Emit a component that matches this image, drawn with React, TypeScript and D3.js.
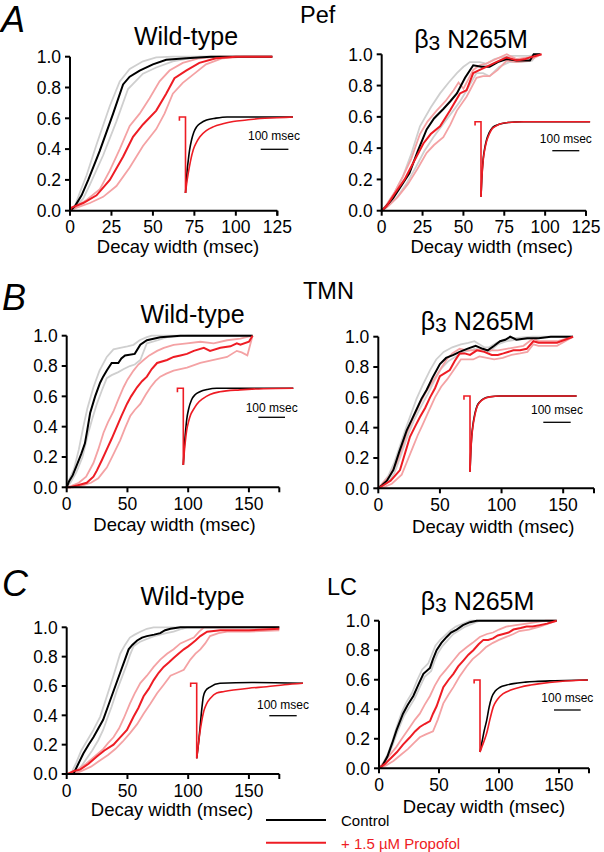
import React from 'react';
import * as d3 from 'd3';

type P = [number, number];

// ---------- Tick labels ----------
const Y_TICKS = [0, 0.2, 0.4, 0.6, 0.8, 1.0];
const X_TICKS_A = [0, 25, 50, 75, 100, 125];
const X_TICKS_BC = [0, 50, 100, 150];

// ---------- Cumulative decay-width distributions (msec, fraction) ----------
// A: Pef, wild-type
const A_WT_CTRL: P[] = [[0,0],[3,0.03],[7,0.1],[11,0.2],[18,0.39],[26,0.63],[32,0.82],[36,0.87],[42,0.91],[50,0.95],[58,0.98],[70,0.99],[85,1],[122,1]];
const A_WT_CTRL_HI: P[] = [[0,0],[3,0.03],[6,0.12],[10,0.23],[16,0.43],[24,0.68],[30,0.84],[36,0.92],[44,0.97],[52,0.995],[62,1],[122,1]];
const A_WT_CTRL_LO: P[] = [[0,0],[3,0.02],[8,0.08],[12,0.17],[20,0.36],[28,0.58],[35,0.79],[44,0.89],[52,0.93],[62,0.97],[78,1],[122,1]];
const A_WT_PROP: P[] = [[0,0],[1,0.02],[8,0.05],[16,0.1],[24,0.2],[32,0.35],[38,0.48],[44,0.56],[52,0.65],[58,0.76],[63,0.86],[70,0.91],[78,0.96],[88,0.99],[100,1],[122,1]];
const A_WT_PROP_HI: P[] = [[0,0],[4,0.03],[10,0.07],[18,0.14],[24,0.26],[30,0.4],[36,0.55],[42,0.63],[48,0.73],[54,0.84],[60,0.91],[68,0.96],[78,0.99],[90,1],[122,1]];
const A_WT_PROP_LO: P[] = [[0,0],[4,0.02],[12,0.05],[20,0.09],[28,0.16],[36,0.28],[44,0.42],[52,0.53],[57,0.63],[62,0.76],[68,0.83],[75,0.89],[82,0.95],[92,0.99],[105,1],[122,1]];

// A: Pef, beta3 N265M
const A_MUT_CTRL: P[] = [[0,0],[2,0.02],[7,0.08],[12,0.16],[17,0.24],[22,0.38],[27.5,0.52],[32,0.59],[37.7,0.65],[42,0.7],[46,0.75],[51,0.85],[56,0.93],[61,0.92],[66,0.92],[71,0.95],[76.5,0.97],[82.6,0.96],[90.7,0.96],[93,1],[97,1]];
const A_MUT_CTRL_HI: P[] = [[0,0],[2,0.02],[7,0.1],[13,0.22],[18,0.36],[23.4,0.54],[30,0.66],[35.7,0.75],[41,0.82],[46,0.88],[50,0.92],[54,0.95],[60,0.95],[64,0.94],[69,0.97],[73,0.98],[80,0.99],[90,0.99],[97,1]];
const A_MUT_CTRL_LO: P[] = [[0,0],[3,0.02],[9,0.08],[15,0.17],[21,0.28],[26,0.38],[31.6,0.47],[38,0.56],[43.8,0.64],[48,0.7],[52,0.77],[58,0.88],[62,0.88],[66,0.86],[72,0.92],[78,0.95],[85,0.95],[92,0.96],[95,1],[97,1]];
const A_MUT_PROP: P[] = [[0,0],[3,0.03],[8,0.11],[14,0.2],[19,0.3],[25.5,0.43],[30,0.49],[35.7,0.54],[41.8,0.64],[47.9,0.75],[51.9,0.77],[56,0.88],[60,0.9],[64,0.92],[70,0.95],[76.5,0.98],[82.6,0.96],[88,0.97],[90.7,0.98],[97.8,1]];
const A_MUT_PROP_HI: P[] = [[0,0],[3,0.04],[8,0.12],[13,0.22],[18,0.33],[23.4,0.49],[28,0.57],[33.6,0.64],[39,0.7],[44,0.77],[47,0.82],[50,0.78],[53,0.84],[56,0.9],[60,0.93],[64,0.94],[70,0.97],[76.5,1],[82.6,0.97],[90,0.98],[97.8,1]];
const A_MUT_PROP_LO: P[] = [[0,0],[4,0.03],[10,0.09],[16,0.17],[22,0.27],[27.5,0.37],[32,0.42],[37.7,0.47],[42,0.55],[46,0.64],[52,0.73],[58,0.85],[62,0.86],[66,0.86],[71,0.9],[76.5,0.96],[82.6,0.95],[90,0.96],[97.8,1]];

// B: TMN, wild-type
const B_WT_CTRL: P[] = [[0,0],[2,0.04],[5,0.08],[8,0.14],[12,0.22],[15,0.29],[17,0.38],[19.3,0.49],[23.4,0.6],[27.5,0.69],[30,0.73],[33,0.77],[37,0.82],[42.5,0.82],[45,0.85],[48,0.87],[56,0.88],[60.6,0.94],[66,0.97],[77,0.99],[93.6,1],[153,1]];
const B_WT_CTRL_HI: P[] = [[0,0],[2,0.05],[6,0.12],[10,0.25],[13.7,0.4],[17,0.52],[22,0.66],[27,0.77],[33,0.86],[38.5,0.91],[44,0.92],[50,0.93],[55,0.94],[60,0.97],[66,0.99],[70,1],[153,1]];
const B_WT_CTRL_LO: P[] = [[0,0],[3,0.03],[8,0.1],[13,0.2],[17.8,0.36],[21,0.45],[24.8,0.55],[29,0.64],[33,0.72],[37,0.74],[42.5,0.76],[47,0.78],[52,0.8],[56,0.81],[60.6,0.84],[66,0.95],[75,0.97],[82.6,0.99],[100,1],[153,1]];
const B_WT_PROP: P[] = [[0,0],[3,0],[10,0.015],[16.5,0.03],[22,0.07],[24.8,0.11],[29,0.18],[33,0.25],[37,0.32],[41.3,0.4],[45,0.47],[49.6,0.55],[53,0.6],[57.9,0.66],[62,0.7],[66,0.73],[70,0.78],[74.4,0.82],[82.6,0.84],[88,0.86],[93.6,0.87],[99,0.88],[104.6,0.9],[112.9,0.92],[118,0.9],[126.5,0.92],[134.8,0.93],[140,0.95],[143,0.94],[150,0.96],[153,1]];
const B_WT_PROP_HI: P[] = [[0,0],[4,0.01],[10,0.03],[16,0.07],[22,0.16],[26,0.25],[30.3,0.36],[34,0.43],[38.5,0.5],[42,0.57],[46.8,0.66],[50,0.71],[55,0.77],[59,0.81],[63.3,0.84],[68,0.87],[74.4,0.9],[80,0.92],[88,0.94],[99,0.95],[110,0.96],[121,0.95],[132,0.97],[143,0.98],[153,1]];
const B_WT_PROP_LO: P[] = [[0,0],[5,0],[12,0.01],[20,0.03],[26,0.06],[30,0.1],[33,0.13],[38,0.21],[44,0.31],[48,0.39],[52.3,0.47],[56,0.51],[60.6,0.55],[65,0.61],[69,0.66],[73,0.7],[77,0.73],[82,0.75],[88,0.77],[99,0.79],[110,0.82],[121,0.84],[132,0.86],[140,0.9],[144,0.89],[148.7,0.87],[153,1]];

// B: TMN, beta3 N265M
const B_MUT_CTRL: P[] = [[0,0],[3,0.02],[7,0.05],[12.2,0.12],[17,0.24],[23,0.38],[27,0.45],[31,0.52],[35,0.59],[39.3,0.65],[44,0.73],[50,0.82],[55,0.86],[61,0.88],[66,0.9],[72,0.92],[79,0.94],[84.7,0.92],[88.8,0.91],[94,0.94],[98.8,0.97],[103,0.98],[107,1],[112,0.98],[120.8,0.99],[130,0.99],[140,1],[158,1]];
const B_MUT_CTRL_HI: P[] = [[0,0],[3,0.03],[8,0.08],[13,0.17],[18,0.29],[23,0.41],[27,0.5],[31,0.59],[36,0.68],[42,0.78],[47,0.85],[53,0.9],[60,0.93],[67,0.95],[73,0.96],[78,0.97],[82,0.95],[86,0.93],[90,0.93],[96,0.96],[102,0.98],[110,0.99],[125,1],[158,1]];
const B_MUT_CTRL_LO: P[] = [[0,0],[3,0.01],[8,0.04],[13,0.1],[18,0.21],[24,0.35],[29,0.45],[34,0.53],[40,0.62],[45,0.7],[51,0.79],[57,0.84],[63,0.87],[70,0.9],[78,0.92],[84,0.91],[90,0.9],[97,0.95],[104,0.97],[112,0.98],[125,0.99],[140,1],[158,1]];
const B_MUT_PROP: P[] = [[0,0],[4,0.02],[10,0.05],[17.6,0.12],[22,0.24],[25.7,0.34],[30,0.41],[33.8,0.47],[38,0.53],[42,0.6],[46,0.66],[50,0.74],[54,0.76],[58,0.78],[62,0.84],[66,0.89],[70,0.89],[74.4,0.88],[80,0.91],[86,0.9],[92,0.88],[97,0.88],[101.5,0.89],[109.6,0.91],[115,0.91],[120.4,0.92],[125.8,0.97],[130,0.96],[145,0.96],[158,1]];
const B_MUT_PROP_HI: P[] = [[0,0],[3,0.03],[9,0.08],[15,0.17],[19,0.26],[23,0.36],[28,0.46],[33.8,0.56],[39,0.64],[44.6,0.71],[50,0.78],[55.5,0.85],[60,0.89],[66,0.92],[72,0.91],[77,0.91],[84,0.92],[90.6,0.91],[97,0.91],[104,0.92],[111,0.93],[117.8,0.94],[125.8,0.99],[130,0.97],[145,0.97],[158,1]];
const B_MUT_PROP_LO: P[] = [[0,0],[5,0.01],[11,0.03],[19,0.09],[24,0.19],[28,0.27],[32,0.35],[36,0.42],[41,0.51],[46,0.6],[51,0.67],[56,0.72],[62,0.79],[67,0.85],[72,0.85],[77,0.85],[82,0.87],[88,0.86],[94,0.85],[101,0.86],[108,0.88],[115,0.89],[121,0.9],[125.8,0.95],[130,0.94],[145,0.94],[158,1]];

// C: LC, wild-type
const C_WT_CTRL: P[] = [[0,0],[5.5,0],[9,0.06],[13.7,0.14],[18,0.2],[22,0.25],[26,0.31],[30,0.37],[33.5,0.45],[37,0.53],[40.5,0.61],[44,0.69],[47.5,0.77],[51,0.85],[54,0.88],[58,0.91],[62,0.93],[66,0.94],[72,0.95],[77,0.96],[81,0.98],[85.4,0.99],[93.6,1],[175,1]];
const C_WT_CTRL_HI: P[] = [[0,0],[4,0.01],[8,0.08],[12,0.16],[17,0.23],[22,0.3],[27.5,0.39],[31.5,0.49],[35.8,0.6],[40,0.71],[44,0.82],[48,0.88],[52,0.93],[56,0.95],[60.6,0.97],[66,0.99],[71.5,1],[175,1]];
const C_WT_CTRL_LO: P[] = [[0,0],[7,0],[11,0.04],[16,0.1],[21,0.16],[26,0.23],[30,0.3],[33,0.37],[37,0.46],[41.3,0.57],[45.5,0.66],[49.6,0.75],[52,0.81],[55,0.87],[60,0.9],[66,0.92],[72,0.94],[77,0.95],[82,0.96],[88,0.97],[95,0.99],[99,1],[175,1]];
const C_WT_PROP: P[] = [[0,0],[1,0],[6,0.02],[11,0.03],[18,0.07],[24.8,0.12],[31,0.16],[38.5,0.2],[44,0.25],[49.6,0.3],[55,0.39],[59,0.45],[63.3,0.53],[67.5,0.58],[71.6,0.64],[75.7,0.69],[79.8,0.73],[84,0.76],[88,0.79],[92,0.82],[96.4,0.85],[100,0.87],[103,0.89],[106,0.91],[110,0.94],[115.6,0.97],[126.5,0.98],[137,0.98],[150,0.98],[175,0.99]];
const C_WT_PROP_HI: P[] = [[0,0],[3,0.01],[9,0.03],[16,0.07],[23,0.12],[30,0.17],[34,0.21],[38.5,0.25],[43,0.31],[47,0.38],[52,0.48],[56,0.55],[60.6,0.62],[66,0.67],[71.6,0.73],[77,0.78],[82.6,0.82],[88,0.85],[93.6,0.89],[99,0.91],[104.6,0.93],[109,0.97],[113,1],[175,1]];
const C_WT_PROP_LO: P[] = [[0,0],[5,0],[12,0.02],[20,0.05],[27,0.09],[34,0.13],[40,0.17],[46,0.22],[52.3,0.28],[58,0.34],[63.3,0.41],[69,0.48],[74.4,0.55],[80,0.61],[85.4,0.67],[91,0.69],[96.4,0.71],[101.8,0.78],[106,0.82],[110,0.85],[114,0.89],[118,0.94],[125,0.96],[132,0.97],[150,0.97],[175,0.98]];

// C: LC, beta3 N265M
const C_MUT_CTRL: P[] = [[0,0],[3,0.02],[7,0.08],[11,0.17],[14.7,0.26],[20,0.37],[24,0.43],[28.6,0.49],[33,0.57],[37,0.64],[42.5,0.68],[45,0.74],[48,0.8],[52,0.85],[56.4,0.89],[60,0.92],[64.7,0.94],[70,0.97],[75.8,0.99],[81.4,1],[148,1]];
const C_MUT_CTRL_HI: P[] = [[0,0],[3,0.03],[7,0.09],[11,0.18],[14.7,0.28],[19,0.38],[23,0.45],[27.5,0.51],[32,0.6],[36,0.67],[41,0.71],[44,0.77],[47,0.83],[51,0.87],[55,0.9],[59,0.93],[64,0.96],[70,0.98],[76,1],[148,1]];
const C_MUT_CTRL_LO: P[] = [[0,0],[3,0.02],[7,0.07],[11,0.15],[15,0.24],[20.5,0.35],[25,0.41],[29.5,0.47],[34,0.55],[38,0.62],[43.5,0.66],[46,0.72],[49,0.78],[53,0.83],[57.5,0.87],[62,0.91],[66,0.93],[72,0.96],[78,0.98],[84,1],[148,1]];
const C_MUT_PROP: P[] = [[0,0],[5,0.03],[10,0.07],[15,0.11],[20,0.16],[25.8,0.21],[30,0.25],[34,0.28],[38,0.3],[42.5,0.32],[45,0.37],[48,0.42],[53.6,0.55],[58,0.6],[62,0.64],[66,0.69],[70.3,0.73],[74.5,0.77],[78.6,0.8],[83,0.84],[87,0.87],[91,0.87],[95,0.88],[99,0.9],[103.6,0.91],[108,0.92],[112,0.94],[118,0.95],[123,0.96],[128,0.96],[134,0.97],[140,0.98],[148,1]];
const C_MUT_PROP_HI: P[] = [[0,0],[4,0.04],[9,0.09],[14,0.14],[19,0.2],[25.8,0.28],[30,0.33],[34,0.37],[38,0.43],[42.5,0.49],[46.5,0.56],[50.8,0.62],[56,0.67],[62,0.73],[67,0.78],[73,0.82],[78,0.85],[84,0.89],[90,0.91],[95,0.92],[100,0.94],[106,0.96],[114,0.97],[123,0.98],[131,0.99],[139,1],[148,1]];
const C_MUT_PROP_LO: P[] = [[0,0],[6,0.02],[12,0.05],[18,0.09],[24,0.13],[29,0.17],[34,0.21],[39,0.23],[45,0.25],[49,0.33],[53.6,0.44],[58,0.5],[62,0.55],[67,0.62],[73,0.69],[78,0.74],[84,0.78],[89,0.82],[95,0.85],[100,0.87],[106,0.89],[112,0.91],[117,0.93],[125,0.94],[134,0.96],[141,0.98],[148,1]];

// ---------- Inset current traces (msec after peak, fraction of peak amplitude) ----------
const A_WT_TR_CTRL: P[] = [[0,1],[3,0.85],[6,0.7],[10,0.57],[15,0.43],[22,0.3],[30,0.2],[40,0.13],[55,0.08],[76,0.04],[110,0.015],[150,0],[388,0]];
const A_WT_TR_PROP: P[] = [[0,1],[4,0.88],[10,0.74],[18,0.58],[28,0.43],[40,0.33],[52,0.26],[75,0.18],[100,0.13],[135,0.09],[172,0.06],[220,0.04],[270,0.02],[330,0.01],[388,0]];
const A_MUT_TR_CTRL: P[] = [[0,1],[3,0.75],[8,0.5],[14,0.35],[20,0.25],[30,0.15],[40,0.09],[55,0.05],[70,0.03],[100,0.01],[150,0],[404,0]];
const A_MUT_TR_PROP: P[] = [[0,1],[3,0.77],[8,0.52],[14,0.37],[20,0.27],[30,0.17],[40,0.1],[55,0.06],[70,0.03],[100,0.01],[160,0],[404,0]];
const B_WT_TR_CTRL: P[] = [[0,1],[4,0.75],[8,0.58],[12.7,0.41],[20,0.27],[31,0.15],[45,0.08],[62,0.045],[90,0.015],[125,0],[412,0]];
const B_WT_TR_PROP: P[] = [[0,1],[4,0.82],[8,0.68],[12.7,0.55],[20,0.43],[28,0.34],[37.5,0.28],[50,0.21],[75,0.13],[100,0.08],[137,0.045],[212,0.02],[300,0.005],[412,0]];
const B_MUT_TR_CTRL: P[] = [[0,1],[3,0.72],[6,0.54],[10,0.4],[18,0.23],[26,0.13],[36.5,0.075],[50,0.035],[73,0.01],[110,0],[389,0]];
const B_MUT_TR_PROP: P[] = [[0,1],[3,0.74],[6,0.56],[10,0.42],[18,0.25],[26,0.14],[36.5,0.08],[50,0.04],[73,0.012],[110,0],[389,0]];
const C_WT_TR_CTRL: P[] = [[0,1],[4,0.88],[8,0.75],[12,0.6],[17,0.4],[24,0.18],[32,0.1],[48.5,0.05],[85,0],[200,-0.01],[388,0]];
const C_WT_TR_PROP: P[] = [[0,1],[5,0.85],[10,0.7],[18,0.51],[26,0.37],[36.5,0.27],[50,0.2],[73,0.13],[100,0.11],[134,0.09],[190,0.065],[255,0.045],[320,0.02],[388,0]];
const C_MUT_TR_CTRL: P[] = [[0,1],[8,0.85],[16,0.7],[25,0.56],[34,0.38],[44,0.24],[58,0.15],[75,0.1],[100,0.07],[125,0.05],[170,0.03],[206,0.02],[280,0.01],[404,0]];
const C_MUT_TR_PROP: P[] = [[0,1],[8,0.92],[16,0.84],[25,0.74],[37,0.55],[50,0.37],[65,0.27],[87,0.19],[115,0.14],[150,0.1],[190,0.07],[225,0.05],[300,0.02],[404,0]];

// stimulus artifact preceding each trace (msec, fraction)
const ARTIFACT: P[] = [[-22, 0.05], [-22, 0], [0, 0], [0, 1]];

// ---------- Styles ----------
const FONT = "'Liberation Sans', Arial, Helvetica, sans-serif";
const BLACK = '#000000';
const GRAY = '#cfcfcf';
const RED = '#ee1c24';
const PINK = '#f4a2a4';

interface PanelCfg {
  x0: number; x1: number; xMax: number; xTicks: number[];
  yBot: number; yTop: number;
  title: 'wt' | 'mut'; titleX: number; titleY: number;
  labelX: number; labelY: number;
  ctrl: P[]; ctrlHi: P[]; ctrlLo: P[]; prop: P[]; propHi: P[]; propLo: P[];
  inset: { sx: number; base: number; k: number; amp: number; barX: number; barY: number; textX: number; textY: number; ctrl: P[]; prop: P[] };
}

const PANELS: PanelCfg[] = [
  { x0: 70, x1: 277.3, xMax: 125, xTicks: X_TICKS_A, yBot: 210.7, yTop: 56.7, title: 'wt', titleX: 186, titleY: 45, labelX: 178, labelY: 253,
    ctrl: A_WT_CTRL, ctrlHi: A_WT_CTRL_HI, ctrlLo: A_WT_CTRL_LO, prop: A_WT_PROP, propHi: A_WT_PROP_HI, propLo: A_WT_PROP_LO,
    inset: { sx: 185.5, base: 117, k: 0.277, amp: 76, barX: 260.7, barY: 149.3, textX: 274, textY: 140, ctrl: A_WT_TR_CTRL, prop: A_WT_TR_PROP } },
  { x0: 381.7, x1: 586, xMax: 125, xTicks: X_TICKS_A, yBot: 210.7, yTop: 54.3, title: 'mut', titleX: 471, titleY: 48, labelX: 491.7, labelY: 252.5,
    ctrl: A_MUT_CTRL, ctrlHi: A_MUT_CTRL_HI, ctrlLo: A_MUT_CTRL_LO, prop: A_MUT_PROP, propHi: A_MUT_PROP_HI, propLo: A_MUT_PROP_LO,
    inset: { sx: 481, base: 121.7, k: 0.27, amp: 75, barX: 552.3, barY: 150.7, textX: 565.8, textY: 143.3, ctrl: A_MUT_TR_CTRL, prop: A_MUT_TR_PROP } },
  { x0: 66.7, x1: 279.3, xMax: 175, xTicks: X_TICKS_BC, yBot: 487.3, yTop: 335.7, title: 'wt', titleX: 192.5, titleY: 323, labelX: 174.5, labelY: 530.5,
    ctrl: B_WT_CTRL, ctrlHi: B_WT_CTRL_HI, ctrlLo: B_WT_CTRL_LO, prop: B_WT_PROP, propHi: B_WT_PROP_HI, propLo: B_WT_PROP_LO,
    inset: { sx: 183.3, base: 388.3, k: 0.267, amp: 76.7, barX: 258.3, barY: 417.3, textX: 271.7, textY: 411.7, ctrl: B_WT_TR_CTRL, prop: B_WT_TR_PROP } },
  { x0: 378.3, x1: 594, xMax: 175, xTicks: X_TICKS_BC, yBot: 488.3, yTop: 336.7, title: 'mut', titleX: 477.5, titleY: 330, labelX: 493.3, labelY: 532.5,
    ctrl: B_MUT_CTRL, ctrlHi: B_MUT_CTRL_HI, ctrlLo: B_MUT_CTRL_LO, prop: B_MUT_PROP, propHi: B_MUT_PROP_HI, propLo: B_MUT_PROP_LO,
    inset: { sx: 470, base: 396, k: 0.274, amp: 75.7, barX: 543.3, barY: 422.3, textX: 557, textY: 414.3, ctrl: B_MUT_TR_CTRL, prop: B_MUT_TR_PROP } },
  { x0: 66.7, x1: 279.3, xMax: 175, xTicks: X_TICKS_BC, yBot: 774, yTop: 627.3, title: 'wt', titleX: 192.5, titleY: 605, labelX: 172, labelY: 816,
    ctrl: C_WT_CTRL, ctrlHi: C_WT_CTRL_HI, ctrlLo: C_WT_CTRL_LO, prop: C_WT_PROP, propHi: C_WT_PROP_HI, propLo: C_WT_PROP_LO,
    inset: { sx: 196.7, base: 683.3, k: 0.274, amp: 75, barX: 269.3, barY: 715.7, textX: 283, textY: 709, ctrl: C_WT_TR_CTRL, prop: C_WT_TR_PROP } },
  { x0: 379, x1: 589, xMax: 175, xTicks: X_TICKS_BC, yBot: 768.3, yTop: 620.7, title: 'mut', titleX: 477.5, titleY: 610, labelX: 484, labelY: 813,
    ctrl: C_MUT_CTRL, ctrlHi: C_MUT_CTRL_HI, ctrlLo: C_MUT_CTRL_LO, prop: C_MUT_PROP, propHi: C_MUT_PROP_HI, propLo: C_MUT_PROP_LO,
    inset: { sx: 480, base: 680, k: 0.267, amp: 72, barX: 554, barY: 710, textX: 567.3, textY: 702.3, ctrl: C_MUT_TR_CTRL, prop: C_MUT_TR_PROP } },
];

function Title({ kind, x, y }: { kind: 'wt' | 'mut'; x: number; y: number }) {
  if (kind === 'wt') {
    return <text x={x} y={y} textAnchor="middle" fontSize={25} fontFamily={FONT}>Wild-type</text>;
  }
  return (
    <text x={x} y={y} textAnchor="middle" fontSize={25} fontFamily={FONT}>
      <tspan>β</tspan><tspan fontSize={21} dy={2}>3</tspan><tspan dy={-2}> N265M</tspan>
    </text>
  );
}

function Inset({ c }: { c: PanelCfg['inset'] }) {
  const xi = d3.scaleLinear().domain([0, 100]).range([c.sx, c.sx + c.k * 100]);
  const yi = d3.scaleLinear().domain([0, 1]).range([c.base, c.base + c.amp]);
  const smooth = d3.line<P>().x(d => xi(d[0])).y(d => yi(d[1])).curve(d3.curveMonotoneX);
  const straight = d3.line<P>().x(d => xi(d[0])).y(d => yi(d[1]));
  const barLen = xi(100) - xi(0);
  return (
    <g>
      <path d={smooth(c.ctrl) || ''} fill="none" stroke={BLACK} strokeWidth={1.6} />
      <path d={smooth(c.prop) || ''} fill="none" stroke={RED} strokeWidth={1.6} />
      <path d={straight(ARTIFACT) || ''} fill="none" stroke={RED} strokeWidth={1.6} />
      <line x1={c.barX} x2={c.barX + barLen} y1={c.barY} y2={c.barY} stroke={BLACK} strokeWidth={1.3} />
      <text x={c.textX} y={c.textY} textAnchor="middle" fontSize={12} fontFamily={FONT}>100 msec</text>
    </g>
  );
}

function Panel({ cfg }: { cfg: PanelCfg }) {
  const x = d3.scaleLinear().domain([0, cfg.xMax]).range([cfg.x0, cfg.x1]);
  const y = d3.scaleLinear().domain([0, 1]).range([cfg.yBot, cfg.yTop]);
  const line = d3.line<P>().x(d => x(d[0])).y(d => y(d[1]));
  const xEnd = x(cfg.xMax);
  return (
    <g>
      <Title kind={cfg.title} x={cfg.titleX} y={cfg.titleY} />
      <path d={line(cfg.ctrlHi) || ''} fill="none" stroke={GRAY} strokeWidth={1.8} />
      <path d={line(cfg.ctrlLo) || ''} fill="none" stroke={GRAY} strokeWidth={1.8} />
      <path d={line(cfg.propHi) || ''} fill="none" stroke={PINK} strokeWidth={1.8} />
      <path d={line(cfg.propLo) || ''} fill="none" stroke={PINK} strokeWidth={1.8} />
      <path d={line(cfg.ctrl) || ''} fill="none" stroke={BLACK} strokeWidth={2} />
      <path d={line(cfg.prop) || ''} fill="none" stroke={RED} strokeWidth={2} />
      <Inset c={cfg.inset} />
      {/* y axis */}
      <line x1={x(0)} x2={x(0)} y1={y(0)} y2={y(1)} stroke={BLACK} strokeWidth={2} />
      {Y_TICKS.map(t => (
        <g key={'y' + t}>
          <line x1={x(0) - 5} x2={x(0)} y1={y(t)} y2={y(t)} stroke={BLACK} strokeWidth={2} />
          <text x={x(0) - 9} y={y(t) + 6.2} textAnchor="end" fontSize={17.5} fontFamily={FONT}>{t.toFixed(1)}</text>
        </g>
      ))}
      {/* x axis */}
      <line x1={x(0) - 1} x2={xEnd} y1={y(0)} y2={y(0)} stroke={BLACK} strokeWidth={2} />
      {cfg.xTicks.map(t => (
        <g key={'x' + t}>
          <line x1={x(t)} x2={x(t)} y1={y(0)} y2={y(0) + 5} stroke={BLACK} strokeWidth={2} />
          <text x={x(t)} y={y(0) + 22.5} textAnchor="middle" fontSize={17.5} fontFamily={FONT}>{t}</text>
        </g>
      ))}
      <line x1={xEnd} x2={xEnd} y1={y(0)} y2={y(0) + 5} stroke={BLACK} strokeWidth={2} />
      <text x={cfg.labelX} y={cfg.labelY} textAnchor="middle" fontSize={18.5} fontFamily={FONT}>Decay width (msec)</text>
    </g>
  );
}

export default function App() {
  return (
    <svg width={604} height={852} viewBox="0 0 604 852"
      style={{ position: 'absolute', left: 0, top: 0, background: '#ffffff' }}>
      <rect x={0} y={0} width={604} height={852} fill="#ffffff" />
      <text x={1} y={32} fontSize={36} fontStyle="italic" fontFamily={FONT}>A</text>
      <text x={2} y={310} fontSize={36} fontStyle="italic" fontFamily={FONT}>B</text>
      <text x={2} y={596} fontSize={36} fontStyle="italic" fontFamily={FONT}>C</text>
      <text x={300} y={23} fontSize={23.5} fontFamily={FONT}>Pef</text>
      <text x={303} y={299} fontSize={23.5} fontFamily={FONT}>TMN</text>
      <text x={327} y={595} fontSize={23.5} fontFamily={FONT}>LC</text>
      {PANELS.map((p, i) => <Panel key={i} cfg={p} />)}
      {/* legend */}
      <line x1={266} x2={326} y1={820} y2={820} stroke={BLACK} strokeWidth={2} />
      <text x={341} y={825.5} fontSize={15} fontFamily={FONT}>Control</text>
      <line x1={266} x2={326} y1={842.7} y2={842.7} stroke={RED} strokeWidth={2} />
      <text x={341} y={848.5} fontSize={15} fontFamily={FONT} fill={RED}>+ 1.5 µM Propofol</text>
    </svg>
  );
}
